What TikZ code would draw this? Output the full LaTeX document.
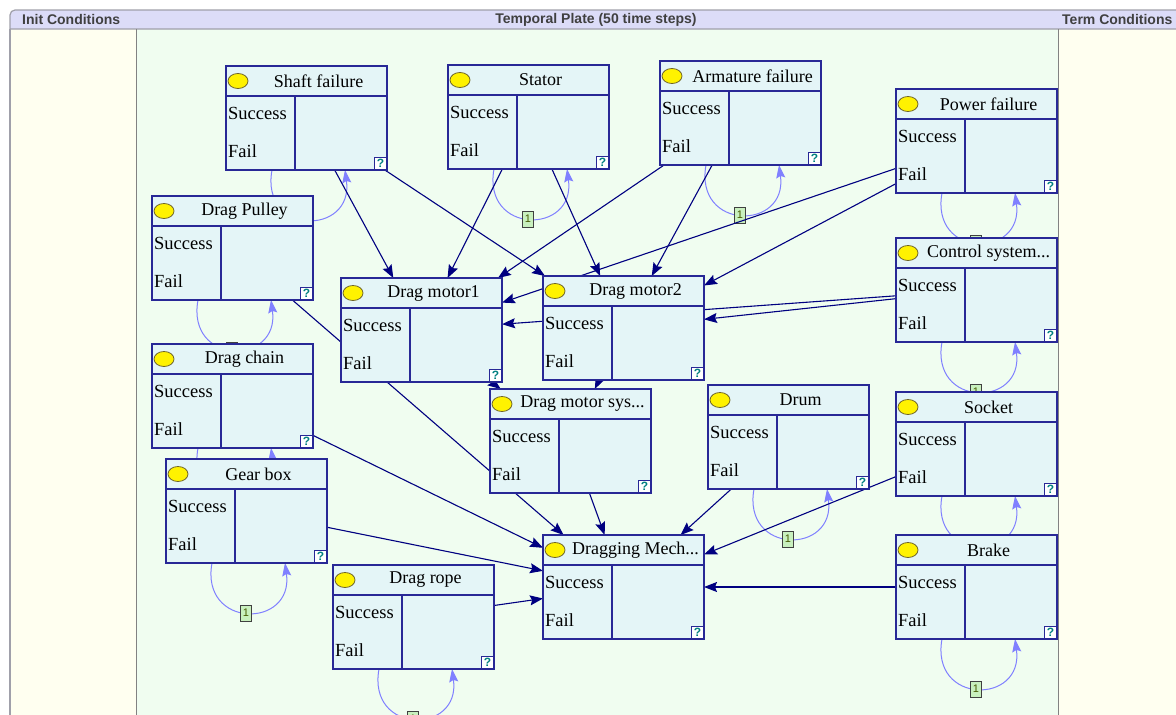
\documentclass[tikz,border=0pt]{standalone}
\usepackage{fontspec}
\setmainfont{Liberation Serif}
\setsansfont{Liberation Sans}
\usetikzlibrary{arrows.meta}

\definecolor{navy}{RGB}{0,0,128}
\definecolor{boxline}{RGB}{40,40,150}
\definecolor{boxfill}{RGB}{228,245,247}
\definecolor{plate}{RGB}{240,253,240}
\definecolor{sidecol}{RGB}{255,255,240}
\definecolor{headfill}{RGB}{220,220,248}
\definecolor{headline}{RGB}{160,160,170}
\definecolor{headtext}{RGB}{64,64,64}
\definecolor{colline}{RGB}{130,130,130}
\definecolor{loopblue}{RGB}{128,128,255}
\definecolor{tagfill}{RGB}{200,240,190}
\definecolor{tagtext}{RGB}{70,90,0}
\definecolor{qteal}{RGB}{0,128,128}
\definecolor{lampline}{RGB}{110,100,40}

\pgfdeclarelayer{back}
\pgfdeclarelayer{links}
\pgfsetlayers{back,links,main}

\tikzset{
  box/.style={rectangle, draw=boxline, fill=boxfill, line width=1.2pt,
    minimum width=161pt, minimum height=104pt, inner sep=0pt, outer sep=0pt,
    anchor=north west},
  rule/.style={draw=boxline, line width=1.2pt},
  lamp/.style={fill=yellow, draw=lampline, line width=0.8pt},
  title/.style={font=\rmfamily\fontsize{18}{20}\selectfont, inner sep=0pt, anchor=center},
  state/.style={font=\rmfamily\fontsize{18.5}{20}\selectfont, inner sep=0pt, anchor=west},
  qmark/.style={rectangle, draw=boxline, fill=white, line width=0.8pt,
    minimum size=12pt, inner sep=0pt, text=qteal,
    font=\sffamily\bfseries\fontsize{12}{12}\selectfont},
  link/.style={draw=navy, line width=1.1pt,
    -{Stealth[length=13pt,width=10pt,inset=2pt]}},
  selfarc/.style={draw=loopblue, line width=1pt,
    -{Stealth[length=13pt,width=9pt,inset=2pt]}},
  tag/.style={rectangle, draw=black!75, fill=tagfill, line width=0.9pt,
    minimum width=11pt, minimum height=16pt, inner sep=0pt, text=tagtext,
    font=\sffamily\fontsize{11}{11}\selectfont},
  head/.style={font=\sffamily\bfseries\fontsize{14}{14}\selectfont,
    text=headtext, inner sep=0pt},
}

% one state box: name, left, top, title
\newcommand\statebox[4]{%
  \node[box] (#1) at (#2,#3) {};
  \draw[rule] ([shift={(0,30)}]#1.north west) -- ([shift={(0,30)}]#1.north east);
  \draw[rule] ([shift={(69,30)}]#1.north west) -- ([shift={(69,104)}]#1.north west);
  \draw[lamp] ([shift={(12,15)}]#1.north west) ellipse [x radius=10pt, y radius=7.5pt];
  \node[title] (#1-t) at ([shift={(92.5,15)}]#1.north west) {#4};
  \node[state] (#1-s) at ([shift={(2,47)}]#1.north west) {Success};
  \node[state] (#1-f) at ([shift={(2,85)}]#1.north west) {Fail};
  \node[qmark] (#1-q) at ([shift={(-6.5,-6.5)}]#1.south east) {?};
}

% persistence arc under a box, with its lag tag
\newcommand\lagarc[1]{%
  \draw[selfarc] ([shift={(46,0)}]#1.south west)
    .. controls ([shift={(34,66)}]#1.south west) and ([shift={(128,66)}]#1.south west)
    .. ([shift={(119,0)}]#1.south west);
  \node[tag] (#1-lag) at ([shift={(80,50)}]#1.south west) {1};
}

\begin{document}
\begin{tikzpicture}[x=1pt,y=-1pt]
\useasboundingbox (0,0) rectangle (1176,715);

\begin{pgfonlayer}{back}
  \fill[white] (0,0) rectangle (1176,715);
  \fill[sidecol] (10,29) rectangle (136,715);
  \fill[plate] (136,29) rectangle (1058,715);
  \fill[sidecol] (1058,29) rectangle (1190,715);
  \filldraw[fill=headfill, draw=headline, line width=1.2pt]
    (10,29) [rounded corners=5pt] -- (10,10) [sharp corners] -- (1190,10)
    -- (1190,29) -- cycle;
  \draw[headline, line width=1.2pt] (10,29) -- (10,715);
  \draw[colline, line width=1pt] (136,29) -- (136,715);
  \draw[colline, line width=1pt] (1058,29) -- (1058,715);
  \node[head, anchor=west] (hinit) at (22,19.5) {Init Conditions};
  \node[head] (hplate) at (596,19.5) {Temporal Plate (50 time steps)};
  \node[head, anchor=west] (hterm) at (1062,19.5) {Term Conditions};
\end{pgfonlayer}

\statebox{sf}{226}{66}{Shaft failure}
\statebox{st}{448}{65}{Stator}
\statebox{ar}{660}{61}{Armature failure}
\statebox{pf}{896}{89}{Power failure}
\statebox{dp}{152}{196}{Drag Pulley}
\statebox{cs}{896}{238}{Control system...}
\statebox{ma}{341}{278}{Drag motor1}
\statebox{mb}{543}{276}{Drag motor2}
\statebox{dc}{152}{344}{Drag chain}
\statebox{ms}{490}{389}{Drag motor sys...}
\statebox{dr}{708}{385}{Drum}
\statebox{so}{896}{392}{Socket}
\statebox{gb}{166}{459}{Gear box}
\statebox{dm}{543}{535}{Dragging Mech...}
\statebox{br}{896}{535}{Brake}
\statebox{ro}{333}{565}{Drag rope}

\begin{pgfonlayer}{links}
  \lagarc{sf}
  \lagarc{st}
  \lagarc{ar}
  \lagarc{pf}
  \lagarc{dp}
  \lagarc{cs}
  \lagarc{dc}
  \lagarc{dr}
  \lagarc{so}
  \lagarc{gb}
  \lagarc{br}
  \lagarc{ro}

  \draw[link] (sf) -- (ma);
  \draw[link] (sf) -- (mb);
  \draw[link] (st) -- (ma);
  \draw[link] (st) -- (mb);
  \draw[link] (ar) -- (ma);
  \draw[link] (ar) -- (mb);
  \draw[link] (pf) -- (ma);
  \draw[link] (pf) -- (mb);
  \draw[link] (cs) -- (ma);
  \draw[link] (cs) -- (mb);
  \draw[link] (ma) -- (ms);
  \draw[link] (mb) -- (ms);
  \draw[link] (ms) -- (dm);
  \draw[link] (dp) -- (dm);
  \draw[link] (dc) -- (dm);
  \draw[link] (gb) -- (dm);
  \draw[link] (ro) -- (dm);
  \draw[link] (dr) -- (dm);
  \draw[link] (so) -- (dm);
  \draw[link] (br) -- (dm);
\end{pgfonlayer}
\end{tikzpicture}
\end{document}
